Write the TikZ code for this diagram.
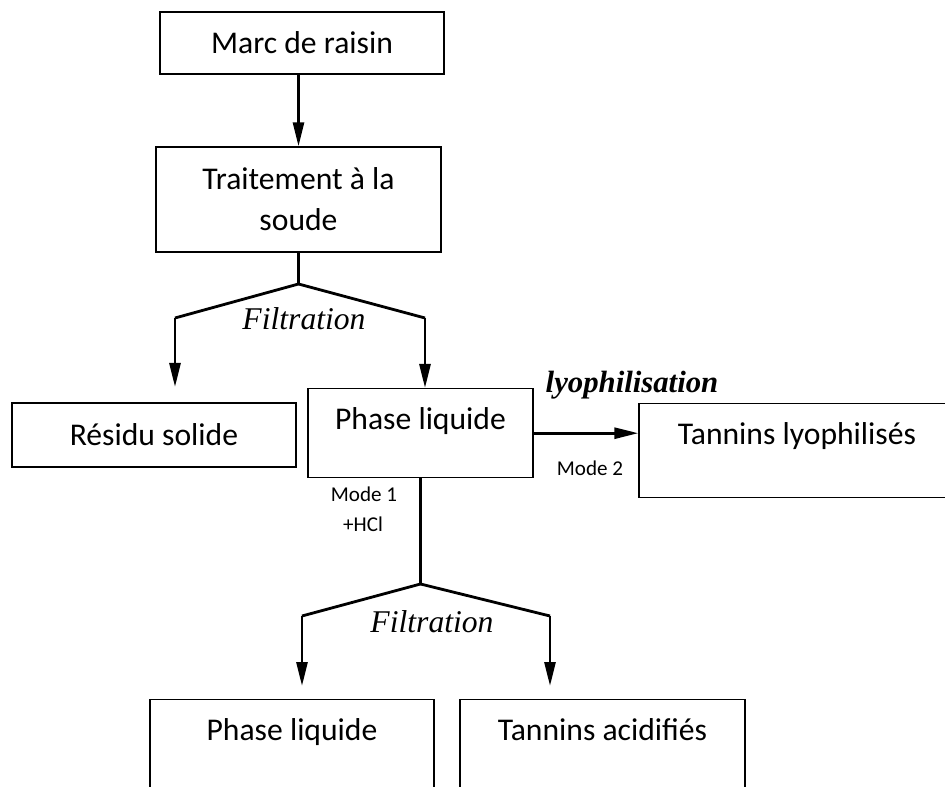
\documentclass[tikz,border=0pt]{standalone}
\usepackage{fontspec}
\setmainfont{Carlito}
\newfontfamily\timesfont{Liberation Serif}
\usetikzlibrary{arrows.meta,positioning}

\begin{document}
\begin{tikzpicture}[font=\fontsize{18}{23.4}\selectfont,
  box/.style={draw, line width=0.8pt, align=center, inner sep=0pt, minimum width=5.68cm},
  topbox/.style={box, anchor=north, text height=0.82cm},
  link/.style={line width=1.6pt},
  arr/.style={line width=1.6pt, -{Triangle[length=0.48cm,width=0.22cm]}},
  filt/.style={font=\fontsize{18}{22}\selectfont\timesfont\itshape, anchor=base},
  lyolab/.style={font=\fontsize{17.5}{21}\selectfont\timesfont\bfseries\itshape, anchor=base},
  mode/.style={font=\fontsize{12}{14}\selectfont, anchor=base}]
  \path[use as bounding box] (0,0) rectangle (18.9,-15.74);
  \clip (0,0) rectangle (18.9,-15.74);

  \node[box, minimum height=1.24cm] (marc) at (6.04,-0.86) {Marc de raisin};
  \node[box, minimum width=5.70cm, minimum height=2.10cm] (soude) at (5.97,-3.99) {Traitement à la\\soude};
  \node[box, minimum height=1.28cm] (residu) at (3.08,-8.70) {Résidu solide};
  \node[topbox, minimum width=4.50cm, text depth=0.96cm] (liq) at (8.41,-7.76) {Phase liquide};
  \node[topbox, minimum width=6.32cm, text depth=1.06cm] (lyo) at (15.94,-8.06) {Tannins lyophilisés};
  \node[topbox, text depth=1.3cm] (liq2) at (5.84,-13.98) {Phase liquide};
  \node[topbox, minimum width=5.70cm, text depth=1.3cm] (acid) at (12.05,-13.98) {Tannins acidifiés};

  \node[filt] (filt1) at (6.08,-6.60) {Filtration};
  \node[filt] (filt2) at (8.64,-12.64) {Filtration};
  \node[lyolab] (lyotxt) at (12.64,-7.86) {lyophilisation};
  \node[mode] (mode1) at (7.28,-10.04) {Mode 1};
  \node[mode] (hcl) at (7.26,-10.64) {+HCl};
  \node[mode] (mode2) at (11.80,-9.52) {Mode 2};

  % branch points of the two filtrations
  \coordinate (f1) at (5.97,-5.68);
  \coordinate (f1l) at (3.50,-6.36);
  \coordinate (f1r) at (8.50,-6.36);
  \coordinate (r1) at (3.50,-7.74);
  \coordinate (f2) at (8.41,-11.68);
  \coordinate (f2l) at (6.04,-12.32);
  \coordinate (f2r) at (11.00,-12.32);
  \coordinate (e2l) at (6.04,-13.72);
  \coordinate (e2r) at (11.00,-13.72);

  \draw[arr] (marc.south -| soude.north) -- (soude.north);
  \draw[link] (soude.south) -- (f1);
  \draw[link] (f1l) -- (f1) -- (f1r);
  \draw[arr] (f1l) -- (r1);
  \draw[arr] (f1r) -- (f1r |- liq.north);
  \draw[arr] (liq.east) -- (liq.east -| lyo.west);
  \draw[link] (liq.south) -- (f2);
  \draw[link] (f2l) -- (f2) -- (f2r);
  \draw[arr] (f2l) -- (e2l);
  \draw[arr] (f2r) -- (e2r);
\end{tikzpicture}
\end{document}
